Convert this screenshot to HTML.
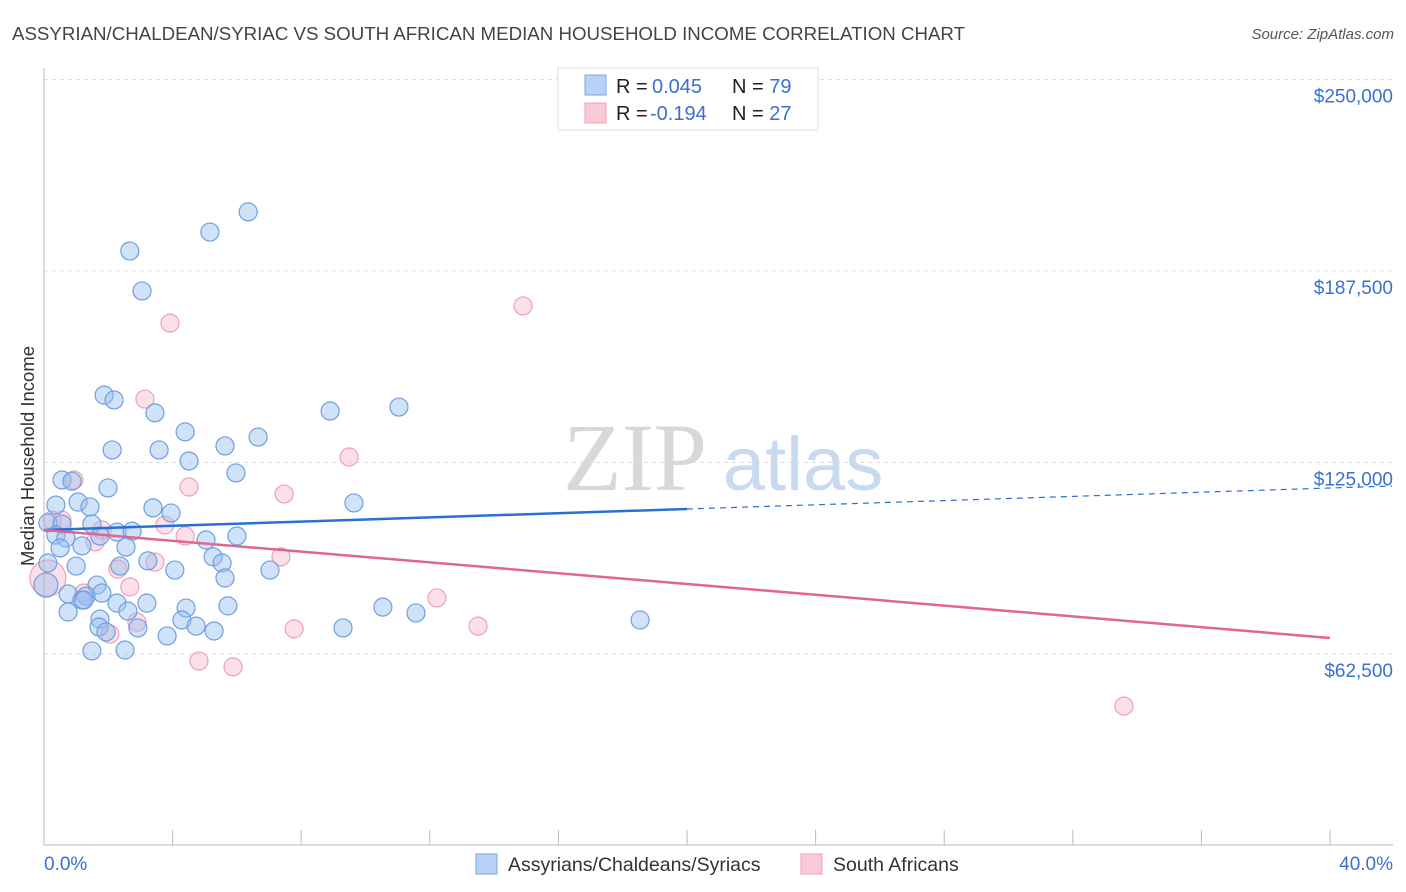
<!DOCTYPE html>
<html><head><meta charset="utf-8"><style>
body{margin:0;background:#fff;font-family:"Liberation Sans",sans-serif}
svg{display:block}
</style></head><body>
<svg id="chart" width="1406" height="892" viewBox="0 0 1406 892" xmlns="http://www.w3.org/2000/svg">
<text x="12" y="40" font-size="18.7" fill="#444" font-family="Liberation Sans, sans-serif" textLength="953">ASSYRIAN/CHALDEAN/SYRIAC VS SOUTH AFRICAN MEDIAN HOUSEHOLD INCOME CORRELATION CHART</text>
<text x="1394" y="39" font-size="15" fill="#555" font-style="italic" text-anchor="end">Source: ZipAtlas.com</text>
<g>
<text x="635" y="490" font-size="96" fill="#d8d8d8" font-family="Liberation Serif, serif" text-anchor="middle">ZIP</text>
<text x="803" y="490" font-size="76" fill="#c8daf0" text-anchor="middle">atlas</text>
</g>
<g id="grid"></g>
<g id="axes"></g>
<g id="marks"></g>
<text transform="translate(34,456) rotate(-90)" font-size="18.5" fill="#333" text-anchor="middle">Median Household Income</text>
<g>
<rect x="558" y="68" width="260" height="62" fill="#fff" stroke="#ddd"/>
<rect x="585" y="75" width="21" height="20" fill="#b8d2f5" stroke="#7aa6e6"/>
<rect x="585" y="103" width="21" height="20" fill="#fbc8d6" stroke="#f0a0b8"/>
<text x="616" y="93" font-size="20" fill="#222">R = <tspan x="652" fill="#3a70d0">0.045</tspan><tspan x="732">N = </tspan><tspan fill="#3a70d0">79</tspan></text>
<text x="616" y="120" font-size="20" fill="#222">R = <tspan x="650" fill="#3a70d0">-0.194</tspan><tspan x="732">N = </tspan><tspan fill="#3a70d0">27</tspan></text>
</g>
<g>
<rect x="476" y="854" width="21" height="20" fill="#b8d2f5" stroke="#7aa6e6"/>
<text x="508" y="871" font-size="19.5" fill="#333">Assyrians/Chaldeans/Syriacs</text>
<rect x="801" y="854" width="21" height="20" fill="#fbc8d6" stroke="#f0a0b8"/>
<text x="833" y="871" font-size="19.5" fill="#333">South Africans</text>
</g>
</svg>
<script>
const yTicks=[62500,125000,187500,250000];
const yTickLabels=["$62,500","$125,000","$187,500","$250,000"];
const xTickValues=[0,4,8,12,16,20,24,28,32,36,40];
const blueX=[6.35,5.16,2.67,3.05,1.87,2.18,3.45,8.90,11.04,4.39,6.66,2.12,3.58,5.63,4.51,5.97,0.56,0.87,1.99,1.06,0.37,1.43,3.39,3.95,9.64,0.12,0.56,1.49,2.27,2.74,0.37,0.68,1.74,5.04,6.00,0.50,1.18,2.55,5.26,5.54,3.23,1.00,2.36,4.07,7.03,0.12,5.63,1.65,0.75,1.31,1.80,1.18,2.27,3.20,4.42,5.72,10.54,11.57,0.75,2.61,1.74,4.29,4.73,18.54,1.71,2.92,1.93,5.29,9.30,3.83,1.49,2.52,0.06,1.24];
const blueY=[206.8,200.2,194.0,181.0,147.0,145.4,141.2,141.8,143.1,135.0,133.3,129.1,129.1,130.4,125.5,121.6,119.3,118.9,116.7,112.1,111.1,110.5,110.2,108.5,111.8,105.3,104.9,104.9,102.3,102.6,101.3,100.4,101.0,99.7,101.0,97.1,97.8,97.4,94.2,92.2,92.9,91.2,91.2,89.9,89.9,92.2,87.3,85.0,82.1,81.4,82.4,80.1,79.1,79.1,77.5,78.2,77.8,75.9,76.2,76.5,73.9,73.6,71.6,73.6,71.3,71.0,69.7,70.0,71.0,68.4,63.5,63.8,85.0,80.1];
const pinkX=[14.90,3.92,3.14,9.49,0.93,4.51,7.47,0.56,3.76,1.80,4.39,1.59,7.37,3.45,2.30,0.12,2.67,1.24,12.22,2.89,7.78,13.50,2.05,4.82,5.88,33.59,0.25];
const pinkY=[176.1,170.5,145.7,126.8,119.3,117.0,114.7,106.2,104.6,103.0,101.0,99.1,94.2,92.5,90.2,87.3,84.4,82.4,80.8,72.9,70.7,71.6,69.0,60.2,58.3,45.5,106.2];
const blueLine=[102970,116680];
const pinkLine=[102970,67720];
const NS="http://www.w3.org/2000/svg";
const X0=44,X1=1330,Y0=654;
function sx(v){return X0+(X1-X0)*v/40;}
function sy(v){return Y0-(v-62500)/62500*191.5;}
function mk(tag,attrs,parent){const e=document.createElementNS(NS,tag);for(const k in attrs)e.setAttribute(k,attrs[k]);parent.appendChild(e);return e;}
const grid=document.getElementById('grid'),axes=document.getElementById('axes'),marks=document.getElementById('marks');
yTicks.forEach((t,i)=>{
 const l=mk('line',{x1:44,x2:1393,y1:sy(t),y2:sy(t),stroke:'#ddd','stroke-dasharray':'4,4'},grid);
 
 
 const tx=mk('text',{x:1393,y:sy(t)+23,'font-size':19,fill:'#3a70d0','text-anchor':'end'},grid);
 tx.textContent=yTickLabels[i];
 
 
});
const ya=mk('line',{x1:44,x2:44,y1:68,y2:845,stroke:'#bbb'},axes);


const xa=mk('line',{x1:44,x2:1393,y1:845,y2:845,stroke:'#bbb'},axes);


xTickValues.forEach(v=>{
 const t=mk('line',{x1:sx(v),x2:sx(v),y1:830,y2:845,stroke:'#bbb'},axes);
 
 
});
const xl0=mk('text',{x:44,y:870,'font-size':19,fill:'#3a70d0'},axes);xl0.textContent='0.0%';


const xl1=mk('text',{x:1393,y:870,'font-size':19,fill:'#3a70d0','text-anchor':'end'},axes);xl1.textContent='40.0%';


pinkX.forEach((x,i)=>{
 const big=(i===15);
 const c=mk('circle',{cx:sx(x),cy:sy(pinkY[i]*1000),r:big?18:9,fill:'rgba(245,165,190,0.35)',stroke:'#f0a0b8','stroke-width':1.2},marks);
 
 
});
blueX.forEach((x,i)=>{
 const big=(i===72);
 const c=mk('circle',{cx:sx(x),cy:sy(blueY[i]*1000),r:big?12:9,fill:'rgba(150,190,240,0.45)',stroke:'#6f9fe0','stroke-width':1.2},marks);
 
 
});
function lv(line,x){return line[0]+(line[1]-line[0])*x/40;}
const bl=mk('line',{x1:sx(0),y1:sy(lv(blueLine,0)),x2:sx(20),y2:sy(lv(blueLine,20)),stroke:'#2a6fd6','stroke-width':2.5},marks);


const bd=mk('line',{x1:sx(20),y1:sy(lv(blueLine,20)),x2:1392,y2:sy(lv(blueLine,(1392-X0)/(X1-X0)*40)),stroke:'#2a6fd6','stroke-width':1.2,'stroke-dasharray':'6,5'},marks);


const pl=mk('line',{x1:sx(0),y1:sy(lv(pinkLine,0)),x2:sx(40),y2:sy(lv(pinkLine,40)),stroke:'#e0668f','stroke-width':2.5},marks);


</script>
</body></html>
